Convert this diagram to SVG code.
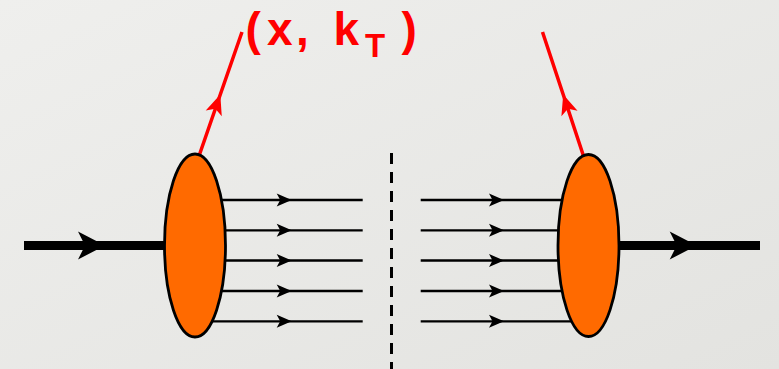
<svg xmlns="http://www.w3.org/2000/svg" width="779" height="369" viewBox="0 0 779 369">
  <defs>
    <linearGradient id="bg" x1="0" y1="0" x2="1" y2="1">
      <stop offset="0" stop-color="#efefed"/>
      <stop offset="1" stop-color="#e3e3e0"/>
    </linearGradient>
    <marker id="thickHead" markerUnits="userSpaceOnUse" viewBox="-30 -16 32 32" refX="0" refY="0" markerWidth="32" markerHeight="32" orient="auto">
      <path d="M0,0 L-27,-14 L-20,0 L-27,14 Z" fill="#000"/>
    </marker>
    <marker id="thinHead" markerUnits="userSpaceOnUse" viewBox="-17 -8 19 16" refX="0" refY="0" markerWidth="19" markerHeight="16" orient="auto">
      <path d="M0,0 L-15,-6.5 L-11.5,0 L-15,6.5 Z" fill="#000"/>
    </marker>
    <marker id="redHead" markerUnits="userSpaceOnUse" viewBox="-22 -11 24 22" refX="0" refY="0" markerWidth="24" markerHeight="22" orient="auto">
      <path d="M0,0 L-20,-8.5 L-15,0 L-20,8.5 Z" fill="#ff0000"/>
    </marker>
  </defs>
  <style>
    .thick { stroke: #000; stroke-width: 9; fill: none; marker-mid: url(#thickHead); }
    .thin { stroke: #000; stroke-width: 2.3; fill: none; marker-mid: url(#thinHead); }
    .red { stroke: #ff0000; stroke-width: 3.5; fill: none; marker-mid: url(#redHead); }
    .blob { fill: #ff6a00; stroke: #000; stroke-width: 2.8; }
    .cut { stroke: #000; stroke-width: 3; stroke-dasharray: 11 8; fill: none; }
    .lbl { font-family: "Liberation Sans", Arial, sans-serif; font-weight: bold; fill: #ff0000; }
  </style>
  <rect x="0" y="0" width="779" height="369" fill="url(#bg)"/>

  <g id="connectors">
    <path class="thick" d="M24,245.5 L105,245.5 L195,245.5"/>
    <path class="thick" d="M588.5,245.5 L696.7,245.5 L760,245.5"/>
    <path class="thin" d="M195,200 L291.7,200 L362.7,200"/>
    <path class="thin" d="M195,230.3 L291.7,230.3 L362.7,230.3"/>
    <path class="thin" d="M195,260.5 L291.7,260.5 L362.7,260.5"/>
    <path class="thin" d="M195,291 L291.7,291 L362.7,291"/>
    <path class="thin" d="M195,321.3 L291.7,321.3 L362.7,321.3"/>
    <path class="thin" d="M420.7,200 L504,200 L588.5,200"/>
    <path class="thin" d="M420.7,230.3 L504,230.3 L588.5,230.3"/>
    <path class="thin" d="M420.7,260.5 L504,260.5 L588.5,260.5"/>
    <path class="thin" d="M420.7,291 L504,291 L588.5,291"/>
    <path class="thin" d="M420.7,321.3 L504,321.3 L588.5,321.3"/>
    <path class="red" d="M199,156 L220.3,94.5 L242,32"/>
    <path class="red" d="M583.5,156 L563.2,94.5 L542.5,32"/>
    <line class="cut" x1="391.5" y1="153" x2="391.5" y2="369"/>
  </g>

  <g id="blobLeft">
    <ellipse class="blob" cx="195" cy="245.5" rx="30.5" ry="91.5"/>
  </g>
  <g id="blobRight">
    <ellipse class="blob" cx="588.5" cy="245.5" rx="30.5" ry="91"/>
  </g>

  <g id="label">
    <text class="lbl" font-size="46" y="45"><tspan x="245.5">(</tspan><tspan x="267">x</tspan><tspan x="296">,</tspan><tspan x="333.5">k</tspan><tspan x="401.5">)</tspan></text>
    <text class="lbl" font-size="33" x="365" y="56.5">T</text>
  </g>
</svg>
